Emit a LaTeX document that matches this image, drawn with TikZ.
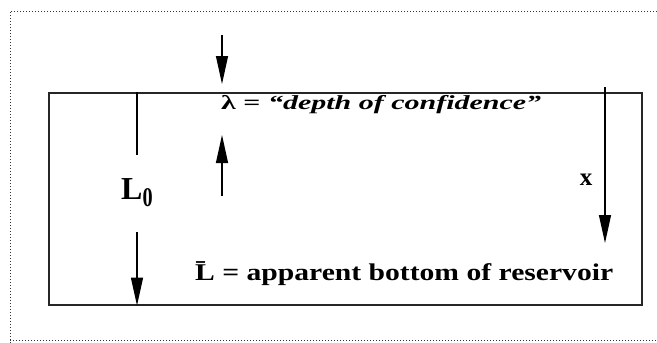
\documentclass[tikz,border=0pt]{standalone}
\usepackage{fontspec}
\setmainfont{Liberation Serif}
\usetikzlibrary{arrows.meta}
\begin{document}
\begin{tikzpicture}[x=1pt,y=-1pt,
  frame/.style={draw=black!85, line width=1.6pt},
  border/.style={draw=black!80, dotted, line width=1pt},
  dim/.style={draw=black, line width=1.3pt, -{Triangle[width=12pt,length=28pt]}},
  plain/.style={draw=black, line width=1.3pt},
  lbl/.style={inner sep=0pt, font=\bfseries}
]
\useasboundingbox (0,0) rectangle (657,343);
\draw[border] (657,11) -- (10,11) -- (10,343);
\draw[border] (10,340) -- (657,340);
\node[frame, minimum width=593pt, minimum height=212pt, anchor=north west, inner sep=0pt] (res) at (48,92) {};
\node[lbl, anchor=base west] (lam) at (221,109) {\resizebox{320pt}{\height}{\fontsize{20}{20}\selectfont λ = \textit{“depth of confidence”}}};
\node[lbl, anchor=base west] (Lbar) at (195,280) {\resizebox{418pt}{\height}{\fontsize{24}{24}\selectfont \={L} = apparent bottom of reservoir}};
\node[lbl, anchor=base west] (L0) at (121,199) {\fontsize{32}{32}\selectfont L\raisebox{-7pt}{\scalebox{0.75}[1]{\fontsize{27}{27}\selectfont 0}}};
\node[lbl, anchor=base] (xl) at (586,185) {\fontsize{25}{25}\selectfont x};
\coordinate (t1) at (222,35);
\coordinate (t2) at (222,84);
\coordinate (u1) at (222,196);
\coordinate (u2) at (222,135);
\coordinate (xa) at (605,87);
\coordinate (xb) at (605,243);
\coordinate (l1) at (137,232);
\draw[dim] (t1) -- (t2);
\draw[dim] (u1) -- (u2);
\draw[plain] (res.north -| 137,0) -- ++(0,63);
\draw[dim] (l1) -- (res.south -| l1);
\draw[dim] (xa) -- (xb);
\end{tikzpicture}
\end{document}
